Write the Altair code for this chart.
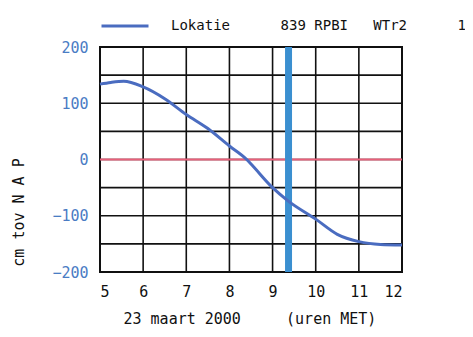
import altair as alt
import pandas as pd

NB = "\u00a0"

hours = [5.0, 5.25, 5.55, 6.0, 6.5, 7.0, 7.5, 8.0, 8.4, 8.5, 9.0, 9.35, 10.0, 10.5, 11.0, 11.5, 12.0]
level = [134, 137, 139, 129, 108, 80, 55, 24, 0, -8, -50, -73, -106, -133, -146, -151, -152]

marker_hour = [9.37]
zero_level = [0]

x_ticks = [5, 6, 7, 8, 9, 10, 11, 12]
y_ticks = [-200, -150, -100, -50, 0, 50, 100, 150, 200]
y_labels = [-200, -100, 0, 100, 200]

series_label = "Lokatie" + NB * 6 + "839" + NB + "RPBI" + NB * 3 + "WTr2" + NB * 6 + "1"
x_title = "23" + NB + "maart" + NB + "2000" + NB * 5 + "(uren" + NB + "MET)"

FONT = "DejaVu Sans Mono"
GRID = "#111111"

df = pd.DataFrame({"hour": hours, "level": level, "series": series_label})
df_marker = pd.DataFrame({"hour": marker_hour})
df_zero = pd.DataFrame({"level": zero_level})
df_xgrid = pd.DataFrame({"hour": x_ticks})
df_ygrid = pd.DataFrame({"level": y_ticks})

xscale = alt.Scale(domain=[5, 12], nice=False, zero=False)
yscale = alt.Scale(domain=[-200, 200], nice=False)

xaxis = alt.Axis(values=x_ticks, grid=False,
                 ticks=False, domain=False, labelPadding=12, labelFont=FONT, labelFontSize=15,
                 labelColor="#111111", title=x_title, titleFont=FONT, titleFontSize=15,
                 titleFontWeight="normal", titleColor="#111111", titleAnchor="start",
                 titleAlign="left", titleX=23, titleY=46, titleBaseline="middle")
yaxis = alt.Axis(values=y_labels, grid=False,
                 ticks=False, domain=False, labelPadding=12, labelFont=FONT, labelFontSize=15,
                 labelColor="#4a7cc4",
                 title="cm" + NB + "tov" + NB + "N" + NB + "A" + NB + "P", titleFont=FONT,
                 titleFontSize=15, titleFontWeight="normal", titleColor="#111111",
                 titleX=-82, titleY=165, titleAlign="center", titleBaseline="middle", titleAngle=-90)

xgrid = alt.Chart(df_xgrid).mark_rule(color=GRID, strokeWidth=1.6).encode(
    x=alt.X("hour:Q", scale=xscale, axis=xaxis)
)
ygrid = alt.Chart(df_ygrid).mark_rule(color=GRID, strokeWidth=1.6).encode(
    y=alt.Y("level:Q", scale=yscale, axis=yaxis)
)

base_line = alt.Chart(df).mark_line(strokeWidth=3, interpolate="monotone").encode(
    x=alt.X("hour:Q", scale=xscale),
    y=alt.Y("level:Q", scale=yscale),
    color=alt.Color("series:N",
                    scale=alt.Scale(domain=[series_label], range=["#4a6cc0"]),
                    legend=alt.Legend(orient="none", legendX=0, legendY=-46, title=None,
                                      symbolType="stroke", symbolSize=2209, symbolStrokeWidth=3,
                                      labelFont=FONT, labelFontSize=14, labelColor="#111111",
                                      labelOffset=21, labelLimit=600, padding=0)),
)

zero_rule = alt.Chart(df_zero).mark_rule(color="#e8607a", strokeWidth=2).encode(
    y=alt.Y("level:Q", scale=yscale)
)

marker_rule = alt.Chart(df_marker).mark_rule(color="#3b8fd0", strokeWidth=7).encode(
    x=alt.X("hour:Q", scale=xscale)
)

chart = alt.layer(xgrid, ygrid, zero_rule, marker_rule, base_line).properties(
    width=302, height=225,
    autosize=alt.AutoSizeParams(type="none"),
    padding={"left": 92, "top": 39, "right": 63, "bottom": 62},
    background="white",
).configure_view(stroke="#111111", strokeWidth=2)

chart.save("out.html", embed_options={"renderer": "svg", "actions": False})
